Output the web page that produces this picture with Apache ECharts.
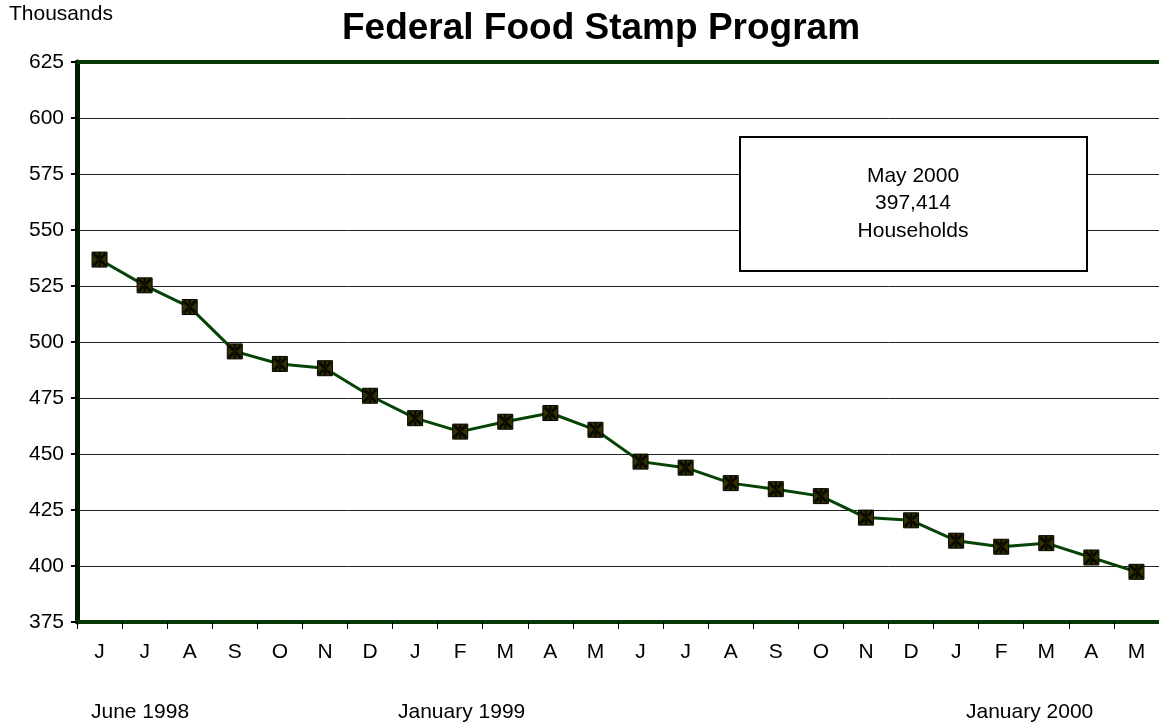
<!DOCTYPE html>
<html>
<head>
<meta charset="utf-8">
<script src="https://cdn.jsdelivr.net/npm/echarts@6/dist/echarts.min.js"></script>
<style>
html,body{margin:0;padding:0;background:#fff;}
#chart{width:1159px;height:728px;}
</style>
</head>
<body>
<div id="chart"></div>
<script>
var months = ['J','J','A','S','O','N','D','J','F','M','A','M','J','J','A','S','O','N','D','J','F','M','A','M'];
var households = [536.8, 525.3, 515.6, 495.8, 490.2, 488.3, 476.0, 466.0, 460.0, 464.4, 468.3, 460.8, 446.6, 443.9, 437.0, 434.3, 431.2, 421.6, 420.4, 411.3, 408.6, 410.2, 403.8, 397.4];
var yTicks = [375, 400, 425, 450, 475, 500, 525, 550, 575, 600, 625];
var periodLabels = ['June 1998', 'January 1999', 'January 2000'];
var noteLines = ['May 2000', '397,414', 'Households'];

var font = 'Arial, "Liberation Sans", sans-serif';
var xPath = 'path://M0,2 L2,0 L14,12 L12,14 Z M14,2 L12,0 L0,12 L2,14 Z M5.9,0 L8.1,0 L8.1,14 L5.9,14 Z';

var chart = echarts.init(document.getElementById('chart'), null, {renderer: 'canvas'});
chart.setOption({
  backgroundColor: '#ffffff',
  animation: false,
  title: {
    text: 'Federal Food Stamp Program',
    left: 596, top: 5, textAlign: 'center',
    textStyle: {fontFamily: font, fontSize: 37, fontWeight: 'bold', color: '#000'}
  },
  grid: {left: 77, right: -6, top: 62, bottom: 106, containLabel: false},
  xAxis: [{
    type: 'category',
    data: months,
    boundaryGap: true,
    axisLine: {show: true, lineStyle: {color: '#063806', width: 4}},
    axisTick: {show: true, length: 7, lineStyle: {color: '#000', width: 1}},
    axisLabel: {fontFamily: font, fontSize: 21, color: '#000', margin: 20, interval: 0},
    splitLine: {show: false}
  }, {
    type: 'category',
    data: months,
    position: 'top',
    boundaryGap: true,
    axisLine: {show: true, lineStyle: {color: '#063806', width: 4}},
    axisTick: {show: false},
    axisLabel: {show: false},
    splitLine: {show: false}
  }],
  yAxis: {
    type: 'value',
    min: yTicks[0], max: yTicks[yTicks.length - 1], interval: 25,
    axisLine: {show: true, lineStyle: {color: '#001a00', width: 5}},
    axisTick: {show: true, length: 6, lineStyle: {color: '#000', width: 2}},
    axisLabel: {fontFamily: font, fontSize: 21, color: '#000', margin: 13},
    splitLine: {show: true, lineStyle: {color: '#222', width: 1}}
  },
  series: [{
    type: 'line',
    data: households,
    lineStyle: {color: '#064406', width: 3},
    symbol: 'rect',
    symbolSize: 15,
    itemStyle: {color: '#333100', borderColor: '#000', borderWidth: 1},
    z: 3
  }, {
    type: 'scatter',
    data: households,
    symbol: xPath,
    symbolSize: 14,
    itemStyle: {color: '#000'},
    z: 4
  }],
  graphic: [
    {type: 'text', left: 9, top: 4, style: {text: 'Thousands', font: '21px ' + font, fill: '#000'}},
    {type: 'rect', shape: {x: 740, y: 137, width: 347, height: 134}, style: {fill: '#fff', stroke: '#000', lineWidth: 2}, z: 10},
    {type: 'text', x: 913, y: 176, style: {text: noteLines[0], font: '21px ' + font, fill: '#000', align: 'center', verticalAlign: 'middle'}, z: 11},
    {type: 'text', x: 913, y: 203, style: {text: noteLines[1], font: '21px ' + font, fill: '#000', align: 'center', verticalAlign: 'middle'}, z: 11},
    {type: 'text', x: 913, y: 231, style: {text: noteLines[2], font: '21px ' + font, fill: '#000', align: 'center', verticalAlign: 'middle'}, z: 11},
    {type: 'text', x: 91, y: 712, style: {text: periodLabels[0], font: '21px ' + font, fill: '#000', verticalAlign: 'middle'}},
    {type: 'text', x: 398, y: 712, style: {text: periodLabels[1], font: '21px ' + font, fill: '#000', verticalAlign: 'middle'}},
    {type: 'text', x: 966, y: 712, style: {text: periodLabels[2], font: '21px ' + font, fill: '#000', verticalAlign: 'middle'}}
  ]
});
</script>
</body>
</html>
